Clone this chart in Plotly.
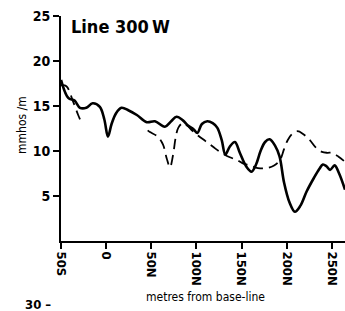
import plotly.graph_objects as go

# Solid curve
solid_x = [-50, -42, -35, -29, -22, -15, -7, -2, 2, 6, 11, 17, 25, 34, 45, 54, 65, 72, 78, 85, 91, 97,
           101, 106, 112, 118, 123, 128, 132, 137, 142.6, 148, 155, 161, 166, 171, 176, 181, 187, 192,
           197, 203, 209, 215, 222, 230, 236, 240, 244, 248, 253, 258, 264.5]
solid_y = [17.9, 15.9, 15.6, 14.8, 14.8, 15.3, 14.9, 13.5, 11.6, 13.0, 14.2, 14.8, 14.5, 14.0, 13.2, 13.3,
           12.7, 13.3, 13.8, 13.4, 12.8, 12.4, 12.0, 13.0, 13.3, 13.1, 12.6, 11.2, 9.6, 10.5, 11.0, 9.8,
           8.3, 7.7, 8.5, 10.0, 11.0, 11.3, 10.6, 9.4, 6.5, 4.3, 3.25, 3.9, 5.5, 7.0, 8.0, 8.5, 8.3, 7.9,
           8.4, 7.5, 5.7]

# Dashed curve (gap where not drawn)
dash_x = [-50, -44, -37, -31, -27, None, 46, 48.5, 57, 63, 67, 70.7, 74, 77, 80, 85, 90, 96, 102, 110,
          118, 126, 137, 145, 152, 159, 168, 178, 186, 192.5, 197, 201, 206, 212, 218, 225.6, 232, 239,
          245, 250, 257, 264.5]
dash_y = [17.3, 17.2, 15.6, 14.0, 13.1, None, 12.3, 12.1, 11.6, 10.7, 9.2, 8.2, 9.5, 11.5, 12.6, 13.1,
          12.8, 12.2, 11.7, 11.1, 10.5, 9.9, 9.3, 9.0, 8.6, 8.4, 8.1, 8.1, 8.4, 9.0, 10.2, 11.2, 11.9,
          12.2, 11.9, 11.2, 10.4, 9.9, 9.8, 9.8, 9.4, 8.8]

x_tick_vals = [-50, 0, 50, 100, 150, 200, 250]
x_tick_text = ["50S", "0", "50N", "100N", "150N", "200N", "250N"]
y_tick_vals = [5, 10, 15, 20, 25]

FONT = "DejaVu Sans Condensed, Liberation Sans Narrow, sans-serif"

W, H = 345, 311
pl, pr, pt, pb = 61, 0, 16, 70
pw, ph = W - pl - pr, H - pt - pb


def px2paper(px, py):
    return (px - pl) / pw, (H - pb - py) / ph


fig = go.Figure()
fig.add_trace(go.Scatter(x=dash_x, y=dash_y, mode="lines", connectgaps=False,
                         line=dict(color="black", width=1.8, dash="10px,6px", shape="spline", smoothing=1.0),
                         showlegend=False, hoverinfo="skip"))
fig.add_trace(go.Scatter(x=solid_x, y=solid_y, mode="lines",
                         line=dict(color="black", width=2.6, shape="spline", smoothing=1.0),
                         showlegend=False, hoverinfo="skip"))

fig.update_layout(
    width=W, height=H,
    margin=dict(l=pl, r=pr, t=pt, b=pb, autoexpand=False),
    paper_bgcolor="white", plot_bgcolor="white",
    font=dict(family=FONT, color="black", size=14),
    xaxis=dict(range=[-50, 264.5], tickvals=x_tick_vals, ticktext=x_tick_text, tickangle=90,
               automargin=False,
               showgrid=False, zeroline=False, showline=True, linecolor="black", linewidth=2,
               ticks="outside", ticklen=6, tickwidth=2, tickcolor="black",
               tickfont=dict(size=13, family=FONT, weight="bold")),
    yaxis=dict(range=[0, 25], tickvals=y_tick_vals, automargin=False,
               showgrid=False, zeroline=False, showline=True, linecolor="black", linewidth=2,
               ticks="outside", ticklen=6, tickwidth=2, tickcolor="black",
               tickfont=dict(size=14, family=FONT, weight="bold")),
)

ann_specs = [
    ("Line 300\u2009W", 120, 27, 18, 0, "bold"),
    ("metres from base-line", 205, 297, 12, 0, "normal"),
    ("mmhos /m", 22, 125, 12, -90, "normal"),
    ("30 \u2013", 38, 304, 13, 0, "bold"),
]
for text, px, py, size, ang, wt in ann_specs:
    xx, yy = px2paper(px, py)
    fig.add_annotation(text=text, x=xx, y=yy, xref="paper", yref="paper", showarrow=False,
                       textangle=ang, xanchor="center", yanchor="middle",
                       font=dict(size=size, family=FONT, color="black", weight=wt))

fig.write_html("out.html", config={"displayModeBar": False},
               post_script="document.body.style.margin='0';document.body.style.overflow='hidden';")
